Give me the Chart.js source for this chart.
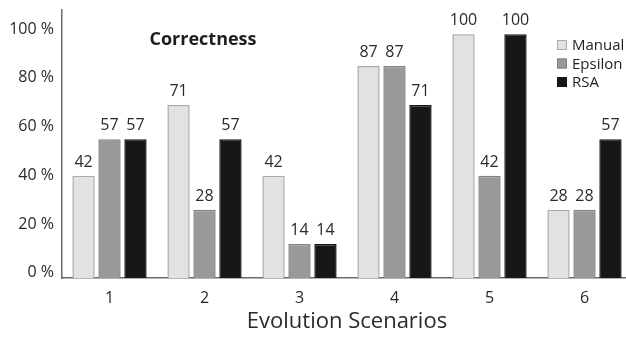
<!DOCTYPE html>
<html><head><meta charset="utf-8">
<script src="https://cdn.jsdelivr.net/npm/chart.js@4/dist/chart.umd.min.js"></script>
<style>html,body{margin:0;padding:0;overflow:hidden;background:#fff}#wrap{width:632px;height:339px}</style>
</head><body><div id="wrap"><canvas id="c"></canvas></div>
<script>
const categories = ['1','2','3','4','5','6'];
const manual  = [42, 71, 42, 87, 100, 28];
const epsilon = [57, 28, 14, 87, 42, 28];
const rsa     = [57, 57, 14, 71, 100, 57];
const seriesNames = ['Manual','Epsilon','RSA'];
const yTicks = [0,20,40,60,80,100];
const chartTitle = 'Correctness';
const xTitle = 'Evolution Scenarios';
const FONT = '"Open Sans", "Noto Sans", sans-serif';

const labelPlugin = {
  id:'vals',
  afterDatasetsDraw(chart){
    const ctx = chart.ctx;
    ctx.save();
    ctx.font = '16px ' + FONT;
    ctx.fillStyle = '#2a2a2a';
    ctx.textAlign = 'center';
    ctx.textBaseline = 'alphabetic';
    chart.data.datasets.forEach((ds,i)=>{
      chart.getDatasetMeta(i).data.forEach((el,j)=>{
        ctx.fillText(String(ds.data[j]), el.x, el.y - 9);
      });
    });
    // title
    const a = chart.chartArea;
    ctx.font = 'bold 18px ' + FONT;
    ctx.fillStyle = '#1e1e1e';
    ctx.textBaseline = 'middle';
    ctx.fillText(chartTitle, a.left + 141, a.top + 30);
    // legend
    ctx.font = '15px ' + FONT;
    ctx.textAlign = 'left';
    chart.data.datasets.forEach((ds,i)=>{
      const y = a.top + 35 + i*18.5;
      const x = a.left + 495;
      ctx.fillStyle = ds.backgroundColor;
      ctx.strokeStyle = ds.borderColor;
      ctx.lineWidth = 1;
      ctx.fillRect(x, y-5, 10, 10);
      ctx.strokeRect(x+0.5, y-4.5, 9, 9);
      ctx.fillStyle = '#1e1e1e';
      ctx.fillText(ds.label, x + 15, y + 1);
    });
    ctx.restore();
  }
};

new Chart(document.getElementById('c'), {
  type:'bar',
  data:{
    labels: categories,
    datasets:[
      {label:seriesNames[0], data:manual, backgroundColor:'#e2e2e2', borderColor:'#a9a9a9', borderWidth:1.5},
      {label:seriesNames[1], data:epsilon, backgroundColor:'#999999', borderColor:'#828282', borderWidth:1.5},
      {label:seriesNames[2], data:rsa, backgroundColor:'#171717', borderColor:'#171717', borderWidth:1.5}
    ]
  },
  options:{
    responsive:true, maintainAspectRatio:false, animation:false,
    layout:{padding:{top:10,right:0,left:0,bottom:0}},
    datasets:{bar:{categoryPercentage:0.82, barPercentage:0.86}},
    plugins:{legend:{display:false}, tooltip:{enabled:false}},
    scales:{
      x:{
        grid:{display:false},
        border:{display:true,color:'#6a6a6a',width:1.5},
        ticks:{color:'#2a2a2a', font:{family:FONT,size:16}, padding:3},
        title:{display:true,text:xTitle,color:'#2a2a2a',font:{family:FONT,size:22},padding:{top:0}},
        afterFit(s){ s.height = 61; s.paddingLeft = 0; s.paddingRight = 0; }
      },
      y:{
        min:0, max:110,
        afterBuildTicks(s){ s.ticks = yTicks.map(v=>({value:v})); },
        grid:{display:false, drawTicks:false},
        border:{display:true,color:'#6a6a6a',width:1.5},
        ticks:{color:'#2a2a2a', font:{family:FONT,size:16,lineHeight:0.65}, padding:8,
          callback:(v)=>[v+' %','']},
        afterFit(s){ s.width = 62; s.paddingTop = 0; s.paddingBottom = 0; }
      }
    }
  },
  plugins:[labelPlugin]
});
</script></body></html>
